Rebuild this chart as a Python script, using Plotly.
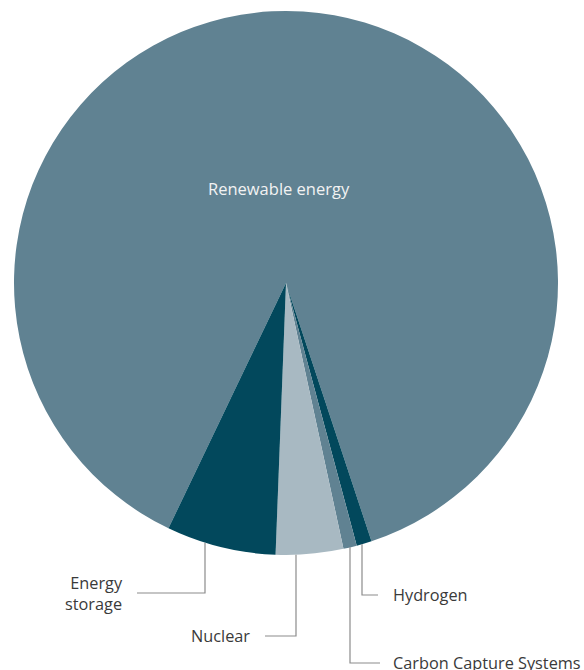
import math
import plotly.graph_objects as go

# ---- data ----
labels = ["Renewable energy", "Hydrogen", "Carbon Capture Systems", "Nuclear", "Energy storage"]
values = [87.8, 0.9, 0.8, 4.0, 6.5]
colors = ["#608292", "#02485c", "#608292", "#a8b9c2", "#02485c"]

# ---- layout constants (pixels) ----
W, H = 584, 670
CX, CY, R = 286, 283, 272          # pie centre (from top) and radius
ROTATION = 205.6                   # start angle of first slice (clockwise from 12 o'clock)

# leader label layout: (line x, elbow y, horizontal end x, text x, side)
label_layout = {
    "Energy storage": (205, 593, 137, 125, "left"),
    "Nuclear": (296, 636, 265, 252, "left"),
    "Hydrogen": (362, 595, 378, 391, "right"),
    "Carbon Capture Systems": (350, 663, 380, 391, "right"),
}

def px(x):
    return x / W

def py(y):
    return 1 - y / H

fig = go.Figure(go.Pie(
    labels=labels,
    values=values,
    sort=False,
    direction="clockwise",
    rotation=ROTATION,
    marker=dict(colors=colors, line=dict(width=0)),
    textposition="none",
    hoverinfo="label+percent",
    showlegend=False,
    domain=dict(x=[px(CX - R), px(CX + R)], y=[py(CY + R), py(CY - R)]),
))

shapes = []
annotations = []
font = dict(family="Open Sans, sans-serif", size=16.3, color="#3a3a3a")
for lab, (lx, ey, hx, tx, side) in label_layout.items():
    # start the leader line on the pie's lower edge
    sy = CY + math.sqrt(max(R * R - (lx - CX) ** 2, 0))
    path = f"M {px(lx)} {py(sy)} L {px(lx)} {py(ey)} L {px(hx)} {py(ey)}"
    shapes.append(dict(type="path", xref="paper", yref="paper", path=path,
                       line=dict(color="#8c8c8c", width=1.2)))
    text = "Energy<br>storage" if lab == "Energy storage" else lab
    annotations.append(dict(
        x=px(tx), y=py(ey), xref="paper", yref="paper", text=text,
        showarrow=False, font=font,
        xanchor="right" if side == "left" else "left",
        align="right" if side == "left" else "left",
        yanchor="middle",
    ))

# inside label for the large slice
annotations.append(dict(
    x=px(CX - 7), y=py(188), xref="paper", yref="paper",
    text="Renewable energy", showarrow=False,
    font=dict(family="Open Sans, sans-serif", size=16.5, color="#f2f2f2"),
    xanchor="center", yanchor="middle",
))

fig.update_layout(
    width=W, height=H,
    margin=dict(l=0, r=0, t=0, b=0),
    paper_bgcolor="white",
    plot_bgcolor="white",
    shapes=shapes,
    annotations=annotations,
)

fig.write_html("out.html")
